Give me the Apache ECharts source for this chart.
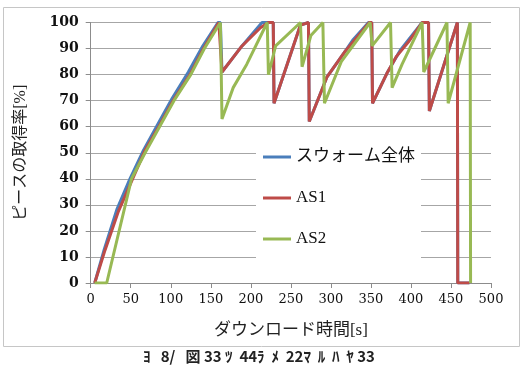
<!DOCTYPE html>
<html>
<head>
<meta charset="utf-8">
<script src="https://cdn.jsdelivr.net/npm/echarts@6/dist/echarts.min.js"></script>
<style>
    html, body { margin:0; padding:0; background:#fff; }
    #chart { width:524px; height:370px; }
</style>
</head>
<body>
<div id="chart"></div>
<script>
    // time [s] / piece rate [%]
    var swarmTime = [5, 17, 33, 49, 66, 84, 102, 122, 140, 159, 162, 164, 189, 214, 222, 228, 229, 262, 272, 273, 295, 318, 328, 347, 351, 352, 370, 387, 414, 422, 423, 458, 458.5, 473];
    var swarmRate = [0, 13, 28.5, 40, 51, 61, 71, 81, 91, 100, 100, 81, 91, 100, 100, 100, 69, 99, 100, 62, 79, 89, 93.5, 100, 100, 69, 80.5, 89.5, 100, 100, 66, 100, 0, 0];

    var as1Time = [5, 18, 34.5, 51, 68, 85, 103, 124, 141, 160, 162, 164, 189, 212, 222, 228, 229, 262, 272, 273, 295, 318, 348, 351, 352, 370, 382, 397, 414, 422, 423, 458, 458.5, 473];
    var as1Rate = [0, 12.7, 27.4, 39, 51, 60, 70, 80, 90, 100, 100, 81, 91, 98, 100, 100, 69, 99, 100, 62, 79, 89, 100, 100, 69, 80.5, 87, 92.6, 100, 100, 66, 100, 0, 0];

    var as2Time = [5, 20, 51, 68, 86, 104, 125, 142, 162, 164, 178, 195, 220.5, 222, 231, 262, 264, 275, 290, 292, 313, 349, 351.5, 374.5, 376.5, 389, 414, 416, 445, 446.5, 474, 474.5];
    var as2Rate = [0, 0, 40, 50, 60, 70, 80, 90, 100, 63, 75, 84, 100, 80, 91, 100, 83, 95, 100, 69, 85, 100, 91, 100, 75, 84, 100, 81, 100, 69, 100, 0];

    var xTicks = [0, 50, 100, 150, 200, 250, 300, 350, 400, 450, 500];
    var yTicks = [0, 10, 20, 30, 40, 50, 60, 70, 80, 90, 100];

    var seriesNames = ['スウォーム全体', 'AS1', 'AS2'];
    var seriesColors = ['#4a7ebb', '#be4b48', '#98b954'];

    function pairs(ts, vs){
        return ts.map(function(t, i){ return [t, vs[i]]; });
    }

    var lineData = [
        pairs(swarmTime, swarmRate),
        pairs(as1Time, as1Rate),
        pairs(as2Time, as2Rate)
    ];

    var serif = '"DejaVu Serif", "Liberation Serif", serif';
    var jp = '"Liberation Serif", "Noto Sans CJK JP", serif';

    var myChart = echarts.init(document.getElementById('chart'));
    var seriesData = [];
    lineData.map(function(d, i){
        seriesData.push({
            name: seriesNames[i],
            type: 'line',
            data: d,
            showSymbol: false,
            symbol: 'none',
            lineStyle: { width: 3, color: seriesColors[i] },
            itemStyle: { color: seriesColors[i] },
            animation: false
        });
    });

    var option = {
        backgroundColor: '#fff',
        animation: false,
        graphic: [
            {
                type: 'rect',
                shape: { x: 3.5, y: 7.5, width: 516, height: 339 },
                style: { fill: 'none', stroke: '#c6c6c6', lineWidth: 1 },
                z: -1
            },
            {
                type: 'text',
                left: 143,
                top: 349,
                style: {
                    text: 'ﾖ   8/   図 33 ﾂ  44ﾗ  ﾒ  22ﾏ  ﾙ  ﾊ  ﾔ 33',
                    font: 'bold 15px "Noto Sans CJK JP", sans-serif',
                    fill: '#222'
                }
            }
        ],
        legend: {
            orient: 'vertical',
            left: 256,
            top: 138,
            data: seriesNames,
            icon: 'rect',
            itemWidth: 28,
            itemHeight: 3,
            itemGap: 21,
            padding: [9, 6, 9, 7],
            backgroundColor: '#fff',
            textStyle: { fontFamily: jp, fontSize: 17, color: '#111', lineHeight: 20 }
        },
        grid: {
            left: 90.7,
            right: 33,
            top: 22.5,
            bottom: 87,
            containLabel: false
        },
        xAxis: {
            type: 'value',
            min: xTicks[0],
            max: xTicks[xTicks.length - 1],
            interval: 50,
            name: 'ダウンロード時間[s]',
            nameLocation: 'middle',
            nameGap: 39,
            nameTextStyle: { fontFamily: jp, fontSize: 17, color: '#222' },
            axisLine: { show: true, lineStyle: { color: '#8c8c8c', width: 1 } },
            axisTick: { show: true, inside: false, length: 5, lineStyle: { color: '#8c8c8c' } },
            axisLabel: { fontFamily: serif, fontSize: 13, color: '#111', margin: 10 },
            splitLine: { show: false }
        },
        yAxis: {
            type: 'value',
            min: yTicks[0],
            max: yTicks[yTicks.length - 1],
            interval: 10,
            name: 'ピースの取得率[%]',
            nameLocation: 'middle',
            nameGap: 62,
            nameTextStyle: { fontFamily: jp, fontSize: 16, color: '#222' },
            axisLine: { show: true, lineStyle: { color: '#8c8c8c', width: 1 } },
            axisTick: { show: true, inside: false, length: 5, lineStyle: { color: '#8c8c8c' } },
            axisLabel: { fontFamily: serif, fontSize: 14, fontWeight: 'bold', color: '#111', margin: 12 },
            splitLine: { show: true, lineStyle: { color: '#a6a6a6', width: 1 } }
        },
        series: seriesData
    };
    myChart.setOption(option);
</script>
</body>
</html>
